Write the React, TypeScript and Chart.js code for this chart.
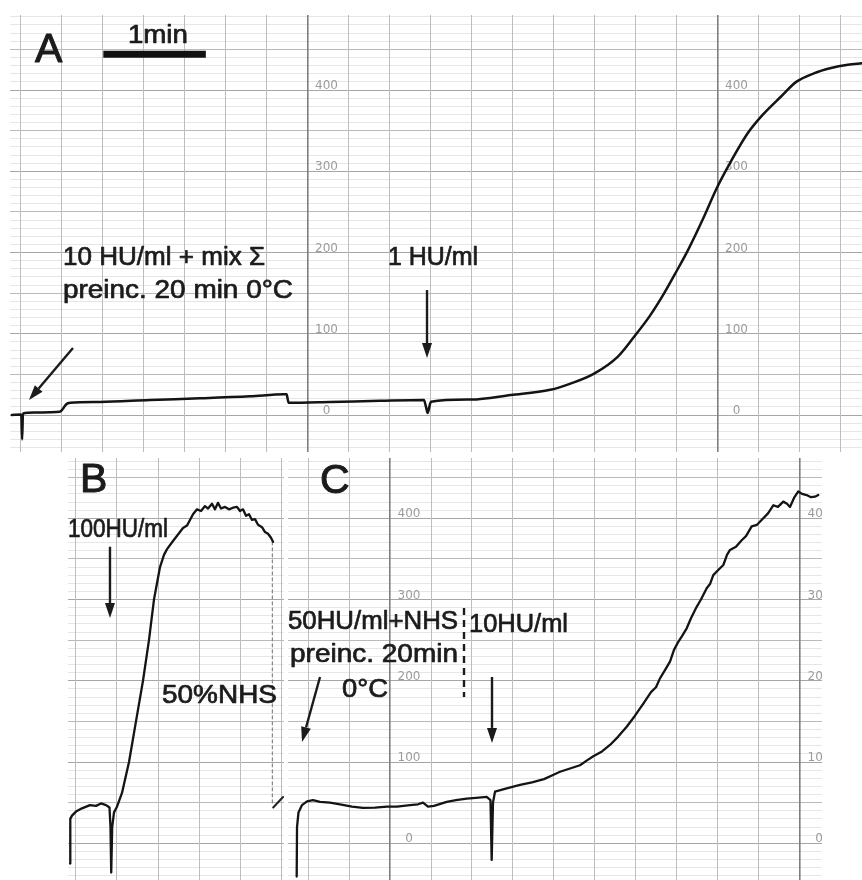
import React, { useEffect, useRef } from 'react';
import { Chart, registerables } from 'chart.js';

Chart.register(...registerables);

const W = 862;
const H = 880;
const FONT = '"Liberation Sans", "DejaVu Sans", Arial, sans-serif';

// x: recorder paper divisions (1 division = 0.4 min), y: recorder units
const MIN_PER_DIV = 0.4;

// Panel A trace
const traceAX = [0.79, 1.02, 1.04, 1.06, 1.35, 1.72, 1.96, 2.04, 2.11, 2.21, 2.94, 4.16, 5.38, 6.6, 7.43, 7.49, 7.54, 8.55, 9.77, 10.84, 10.89, 10.93, 10.98, 11.01, 11.99, 12.96, 13.92, 14.43, 14.99, 15.57, 15.96, 16.35, 16.7, 16.99, 17.28, 17.67, 17.96, 18.26, 18.74, 19.13, 19.55, 19.92, 20.35, 20.77, 21.18, 21.52];
const traceAY = [0, 0.5, -30, 2, 3, 3.5, 4, 8, 13, 15, 16, 18.5, 20.5, 23, 25.5, 25.5, 15, 16, 17.5, 18.5, 10, 2.5, 12, 16.4, 19, 24.6, 31, 39, 51, 72, 96, 122, 150, 176, 203, 244, 277, 306, 347, 371, 392, 410, 420.5, 427, 431, 433];

// Panel B trace
const traceBX = [-0.146, -0.139, -0.098, 0, 0.146, 0.341, 0.488, 0.61, 0.732, 0.817, 0.841, 0.859, 0.883, 0.927, 1.0, 1.122, 1.293, 1.463, 1.634, 1.78, 1.902, 2.049, 2.146, 2.22, 2.366, 2.488, 2.61, 2.707, 2.78, 2.854, 2.951, 3.049, 3.146, 3.22, 3.317, 3.39, 3.463, 3.537, 3.634, 3.732, 3.829, 3.927, 4.0, 4.073, 4.146, 4.22, 4.293, 4.366, 4.439, 4.537, 4.61, 4.683, 4.756, 4.805];
const traceBY = [-25, 30, 34, 39, 43, 47, 46, 49, 47, 44, 20, -36, 20, 38, 45, 62, 100, 150, 200, 250, 300, 340, 355, 362, 372, 380, 388, 391, 398, 405, 411, 409, 415, 412, 418, 411, 419, 412, 414, 411, 413, 414, 409, 411, 403, 405, 398, 399, 392, 389, 383, 381, 376, 371];
const returnBX = [4.79, 4.79];
const returnBY = [371, 48];
const markBX = [4.81, 5.05];
const markBY = [44, 57];

// Panel C trace
const traceCX = [7.724, 7.732, 7.768, 7.854, 7.976, 8.122, 8.293, 8.537, 8.78, 9.073, 9.341, 9.634, 9.927, 10.171, 10.488, 10.683, 10.805, 10.927, 11.073, 11.383, 11.61, 11.871, 12.098, 12.359, 12.451, 12.48, 12.512, 12.561, 12.846, 13.171, 13.463, 13.756, 13.976, 14.146, 14.39, 14.634, 14.805, 14.959, 15.171, 15.366, 15.561, 15.773, 15.976, 16.179, 16.366, 16.488, 16.585, 16.707, 16.829, 16.927, 17.032, 17.122, 17.237, 17.341, 17.48, 17.585, 17.724, 17.805, 17.885, 18.0, 18.13, 18.22, 18.293, 18.439, 18.578, 18.683, 18.822, 18.951, 19.105, 19.22, 19.349, 19.463, 19.593, 19.683, 19.756, 19.854, 19.959, 20.049, 20.163, 20.268, 20.366, 20.446];
const traceCY = [-41, 20, 38, 47, 51.5, 53, 51, 50, 48, 45, 43.5, 44, 45, 45, 47, 48, 50, 45, 46, 51, 53, 55, 56, 57, 53, -20.5, 50, 63.5, 67.7, 71.8, 75, 79, 84, 88, 92, 96, 102, 107, 113, 121, 131, 143.5, 157, 172, 186, 192, 203, 213, 223.5, 238, 248, 255, 264.6, 277, 291, 300, 314, 319, 330, 336, 342.5, 355, 361, 365, 373, 378, 390, 392, 400, 406, 416, 414, 420.5, 418, 414, 425, 433, 430, 428.6, 426, 426.6, 428.6];

// Paper scale printed at the heavy lines
const scaleValues = [0, 100, 200, 300, 400];
const scaleLabels = ['0', '100', '200', '300', '400'];

// 1 min scale bar (start in divisions)
const scaleBarStart = 3.02;
const scaleBarLevel = 444;

type Note =
  | { t: 'text'; x: number; y: number; text: string; size: number; width?: number }
  | { t: 'arrow'; x: number; y: number; x2: number; y2: number }
  | { t: 'dash'; x: number; y: number; x2: number; y2: number };

interface Series {
  xs: number[];
  ys: number[];
  width: number;
  color: string;
  dash?: number[];
  smooth?: boolean;
  cap?: CanvasLineCap;
}

interface Panel {
  area: { left: number; top: number; right: number; bottom: number };
  xMin: number;
  xMax: number;
  yMin: number;
  yMax: number;
  heavy: number[];
  labelAt: number[];
  series: Series[];
  notes: Note[];
}

const intRange = (a: number, b: number, s: number) => {
  const r: number[] = [];
  for (let v = Math.ceil(a / s) * s; v <= b + 1e-9; v += s) r.push(Math.round(v * 1000) / 1000);
  return r;
};

const panels: Panel[] = [
  {
    area: { left: 10, top: 15, right: 862, bottom: 452 },
    xMin: 0.744,
    xMax: 21.524,
    yMin: -45.5,
    yMax: 492.3,
    heavy: [8, 18],
    labelAt: [8, 18],
    series: [
      { xs: traceAX, ys: traceAY, width: 2.5, color: '#141414', smooth: true },
      {
        xs: [scaleBarStart, scaleBarStart + 1 / MIN_PER_DIV],
        ys: [scaleBarLevel, scaleBarLevel],
        width: 7,
        color: '#111',
        cap: 'butt',
      },
    ],
    notes: [
      { t: 'text', x: 1.354, y: 434.5, text: 'A', size: 41 },
      { t: 'text', x: 3.62, y: 458.2, text: '1min', size: 25, width: 60 },
      { t: 'text', x: 2.037, y: 184.6, text: '10 HU/ml + mix Σ', size: 26, width: 202 },
      { t: 'text', x: 2.037, y: 144, text: 'preinc. 20 min 0°C', size: 26, width: 230 },
      { t: 'arrow', x: 2.28, y: 82.5, x2: 1.207, y2: 18.5 },
      { t: 'text', x: 9.963, y: 184.6, text: '1 HU/ml', size: 26, width: 90 },
      { t: 'arrow', x: 10.915, y: 153.8, x2: 10.915, y2: 70.2 },
    ],
  },
  {
    area: { left: 68, top: 458, right: 284, bottom: 880 },
    xMin: -0.195,
    xMax: 5.073,
    yMin: -45.2,
    yMax: 474.2,
    heavy: [],
    labelAt: [],
    series: [
      { xs: traceBX, ys: traceBY, width: 2.3, color: '#141414' },
      { xs: returnBX, ys: returnBY, width: 1.3, color: '#8a8a8a', dash: [3, 3] },
      { xs: markBX, ys: markBY, width: 2, color: '#222' },
    ],
    notes: [
      { t: 'text', x: 0.098, y: 432.4, text: 'B', size: 41 },
      { t: 'text', x: -0.195, y: 377, text: '100HU/ml', size: 26, width: 100 },
      { t: 'arrow', x: 0.829, y: 365, x2: 0.829, y2: 277.3 },
      { t: 'text', x: 2.098, y: 172.7, text: '50%NHS', size: 26, width: 115 },
    ],
  },
  {
    area: { left: 288, top: 458, right: 822, bottom: 880 },
    xMin: 7.512,
    xMax: 20.537,
    yMin: -45.2,
    yMax: 474.2,
    heavy: [10, 20],
    labelAt: [10, 20],
    series: [{ xs: traceCX, ys: traceCY, width: 2.3, color: '#141414' }],
    notes: [
      { t: 'text', x: 8.293, y: 431.1, text: 'C', size: 41 },
      { t: 'text', x: 7.512, y: 263.4, text: '50HU/ml+NHS', size: 26, width: 170 },
      { t: 'text', x: 7.561, y: 223, text: 'preinc. 20min', size: 26, width: 168 },
      { t: 'text', x: 8.829, y: 180, text: '0°C', size: 26, width: 46 },
      { t: 'dash', x: 11.805, y: 289.6, x2: 11.805, y2: 180 },
      { t: 'text', x: 11.927, y: 260, text: '10HU/ml', size: 26, width: 99 },
      { t: 'arrow', x: 8.293, y: 204.7, x2: 7.854, y2: 124.7 },
      { t: 'arrow', x: 12.488, y: 204.7, x2: 12.488, y2: 123.5 },
    ],
  },
];

function makePlugin(p: Panel) {
  return {
    id: 'recorderNotes',
    beforeDatasetsDraw(chart: any) {
      const ctx: CanvasRenderingContext2D = chart.ctx;
      const xs = chart.scales.x;
      const ys = chart.scales.y;
      const a = chart.chartArea;
      ctx.save();
      ctx.beginPath();
      ctx.rect(a.left, a.top, a.right - a.left, a.bottom - a.top);
      ctx.clip();
      ctx.fillStyle = '#9c9c9c';
      ctx.font = '12px "DejaVu Sans", sans-serif';
      ctx.textAlign = 'center';
      ctx.textBaseline = 'alphabetic';
      p.labelAt.forEach((xv) => {
        const px = xs.getPixelForValue(xv) + 19;
        scaleValues.forEach((v, i) => {
          ctx.fillText(scaleLabels[i], px, ys.getPixelForValue(v) - 1);
        });
      });
      ctx.restore();
    },
    afterDraw(chart: any) {
      const ctx: CanvasRenderingContext2D = chart.ctx;
      const xs = chart.scales.x;
      const ys = chart.scales.y;
      ctx.save();
      ctx.fillStyle = '#1b1b1b';
      ctx.strokeStyle = '#1b1b1b';
      p.notes.forEach((n) => {
        const x1 = xs.getPixelForValue(n.x);
        const y1 = ys.getPixelForValue(n.y);
        if (n.t === 'text') {
          ctx.font = `${n.size}px ${FONT}`;
          ctx.textAlign = 'left';
          ctx.textBaseline = 'alphabetic';
          const w = ctx.measureText(n.text).width;
          const sx = n.width ? n.width / w : 1;
          ctx.save();
          ctx.translate(x1, y1);
          ctx.scale(sx, 1);
          ctx.lineWidth = n.size > 30 ? 1 : 0.7;
          ctx.lineJoin = 'round';
          ctx.strokeText(n.text, 0, 0);
          ctx.fillText(n.text, 0, 0);
          ctx.restore();
        } else {
          const x2 = xs.getPixelForValue(n.x2);
          const y2 = ys.getPixelForValue(n.y2);
          if (n.t === 'dash') {
            ctx.save();
            ctx.lineWidth = 2.4;
            ctx.setLineDash([7, 5]);
            ctx.beginPath();
            ctx.moveTo(x1, y1);
            ctx.lineTo(x2, y2);
            ctx.stroke();
            ctx.restore();
          } else {
            const ang = Math.atan2(y2 - y1, x2 - x1);
            const hl = 15;
            const hw = 5;
            const bx = x2 - hl * Math.cos(ang);
            const by = y2 - hl * Math.sin(ang);
            ctx.lineWidth = 2.4;
            ctx.lineCap = 'butt';
            ctx.beginPath();
            ctx.moveTo(x1, y1);
            ctx.lineTo(bx, by);
            ctx.stroke();
            ctx.beginPath();
            ctx.moveTo(x2, y2);
            ctx.lineTo(bx + hw * Math.sin(ang), by - hw * Math.cos(ang));
            ctx.lineTo(bx - hw * Math.sin(ang), by + hw * Math.cos(ang));
            ctx.closePath();
            ctx.fill();
          }
        }
      });
      ctx.restore();
    },
  };
}

function makeConfig(p: Panel): any {
  const heavy = p.heavy;
  return {
    type: 'line',
    data: {
      datasets: p.series.map((s) => ({
        data: s.xs.map((x, i) => ({ x, y: s.ys[i] })),
        borderColor: s.color,
        borderWidth: s.width,
        borderDash: s.dash || [],
        borderCapStyle: s.cap || 'round',
        borderJoinStyle: 'round',
        pointRadius: 0,
        fill: false,
        tension: 0,
        cubicInterpolationMode: s.smooth ? 'monotone' : 'default',
      })),
    },
    options: {
      animation: false,
      responsive: false,
      events: [],
      layout: {
        padding: { left: p.area.left, top: p.area.top, right: W - p.area.right, bottom: H - p.area.bottom },
      },
      plugins: { legend: { display: false }, tooltip: { enabled: false }, title: { display: false } },
      scales: {
        x: {
          type: 'linear',
          min: p.xMin,
          max: p.xMax,
          afterBuildTicks: (axis: any) => {
            axis.ticks = intRange(p.xMin, p.xMax, 1).map((v) => ({ value: v }));
          },
          ticks: { display: false },
          border: { display: false },
          grid: {
            z: -1,
            drawTicks: false,
            color: (c: any) => (heavy.includes(c.tick?.value) ? '#7e7e7e' : '#bdbdbd'),
            lineWidth: (c: any) => (heavy.includes(c.tick?.value) ? 1.6 : 1),
          },
        },
        y: {
          type: 'linear',
          min: p.yMin,
          max: p.yMax,
          afterBuildTicks: (axis: any) => {
            axis.ticks = intRange(p.yMin, p.yMax, 10).map((v) => ({ value: v }));
          },
          ticks: { display: false },
          border: { display: false },
          grid: {
            z: -2,
            drawTicks: false,
            color: (c: any) => {
              const v = Math.round(c.tick?.value ?? 0);
              if (v % 100 === 0) return '#a6a6a6';
              if (v % 50 === 0) return '#bababa';
              return '#e6e6e6';
            },
            lineWidth: 1,
          },
        },
      },
    },
    plugins: [makePlugin(p)],
  };
}

function PanelCanvas({ panel }: { panel: Panel }) {
  const ref = useRef<HTMLCanvasElement | null>(null);
  useEffect(() => {
    if (!ref.current) return;
    const chart = new Chart(ref.current, makeConfig(panel));
    return () => chart.destroy();
  }, [panel]);
  return (
    <canvas
      ref={ref}
      width={W}
      height={H}
      style={{ position: 'absolute', left: 0, top: 0, width: W, height: H }}
    />
  );
}

export default function App() {
  return (
    <div style={{ position: 'absolute', left: 0, top: 0, width: W, height: H, background: '#fff', overflow: 'hidden' }}>
      {panels.map((p, i) => (
        <PanelCanvas key={i} panel={p} />
      ))}
    </div>
  );
}
